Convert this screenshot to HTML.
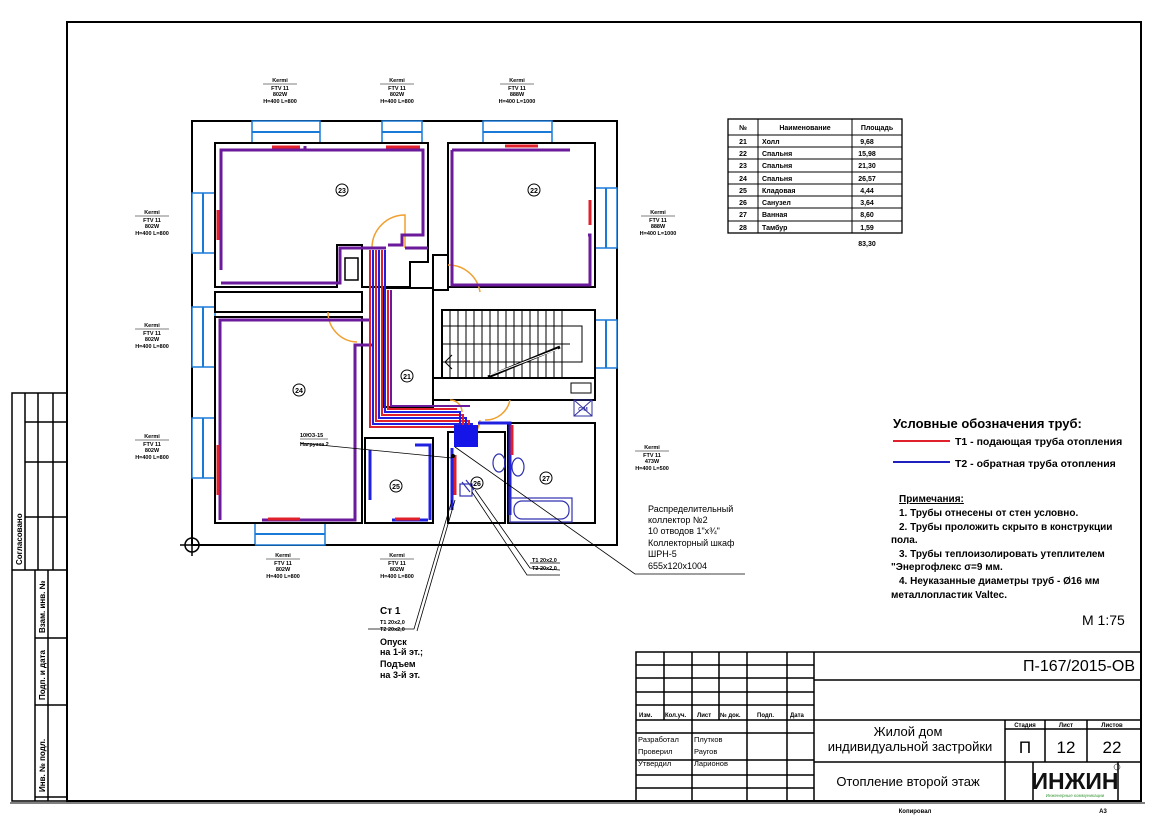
<!DOCTYPE html>
<html><head><meta charset="utf-8"><style>
html,body{margin:0;padding:0;background:#fff;}
svg{display:block;font-family:"Liberation Sans",Arial,sans-serif;}
.s{font-size:5.5px;font-weight:bold;text-anchor:middle;}
.w{fill:none;stroke:#000;stroke-width:2;}
.win{fill:#fff;stroke:#1a7ad8;stroke-width:1.5;}
.pp{fill:none;stroke:#6a1a9a;stroke-width:3;}
.rd{fill:none;stroke:#e0202a;stroke-width:3;}
.bl{fill:none;stroke:#2020e0;stroke-width:3;}
.dr{fill:none;stroke:#f0a030;stroke-width:1.5;}
</style></head><body>
<svg width="1166" height="824" viewBox="0 0 1166 824" xmlns="http://www.w3.org/2000/svg">
<rect x="67" y="22" width="1074" height="779" fill="none" stroke="#000" stroke-width="2"/>
<line x1="10" y1="803" x2="1145" y2="803" stroke="#000" stroke-width="1"/>
<g fill="none" stroke="#000" stroke-width="1.5">
<rect x="12" y="393" width="55" height="408"/>
<line x1="25" y1="393" x2="25" y2="570"/><line x1="38" y1="393" x2="38" y2="570"/><line x1="53" y1="393" x2="53" y2="570"/>
<line x1="25" y1="422" x2="67" y2="422"/><line x1="25" y1="462" x2="67" y2="462"/><line x1="25" y1="517" x2="67" y2="517"/>
<line x1="12" y1="570" x2="67" y2="570"/>
<line x1="35" y1="570" x2="35" y2="801"/><line x1="48" y1="570" x2="48" y2="801"/>
<line x1="35" y1="638" x2="67" y2="638"/><line x1="35" y1="705" x2="67" y2="705"/><line x1="35" y1="797" x2="67" y2="797"/>
</g>
<g font-size="8" font-weight="bold">
<text transform="translate(22,565) rotate(-90)">Согласовано</text>
<text transform="translate(45,633) rotate(-90)">Взам. инв. №</text>
<text transform="translate(45,700) rotate(-90)">Подп. и дата</text>
<text transform="translate(45,792) rotate(-90)">Инв. № подл.</text>
</g>

<rect x="192" y="121" width="425" height="424" fill="#fff" stroke="#000" stroke-width="2"/>
<g>
<rect class="win" x="252" y="121" width="68" height="22"/><line x1="252" y1="132" x2="320" y2="132" stroke="#1a7ad8" stroke-width="2"/>
<rect class="win" x="382" y="121" width="40" height="22"/><line x1="382" y1="132" x2="422" y2="132" stroke="#1a7ad8" stroke-width="2"/>
<rect class="win" x="483" y="121" width="69" height="22"/><line x1="483" y1="132" x2="552" y2="132" stroke="#1a7ad8" stroke-width="2"/>
<rect class="win" x="192" y="193" width="23" height="60"/><line x1="203" y1="193" x2="203" y2="253" stroke="#1a7ad8" stroke-width="2"/>
<rect class="win" x="192" y="307" width="23" height="60"/><line x1="203" y1="307" x2="203" y2="367" stroke="#1a7ad8" stroke-width="2"/>
<rect class="win" x="192" y="418" width="23" height="60"/><line x1="203" y1="418" x2="203" y2="478" stroke="#1a7ad8" stroke-width="2"/>
<rect class="win" x="595" y="188" width="22" height="60"/><line x1="606" y1="188" x2="606" y2="248" stroke="#1a7ad8" stroke-width="2"/>
<rect class="win" x="595" y="320" width="22" height="48"/><line x1="606" y1="320" x2="606" y2="368" stroke="#1a7ad8" stroke-width="2"/>
<rect class="win" x="255" y="523" width="70" height="22"/><line x1="255" y1="534" x2="325" y2="534" stroke="#1a7ad8" stroke-width="2"/>
</g>
<g class="w">
<path d="M215,143 H428 V262 H410 V287 H362 V245 H337 V287 H215 Z"/>
<path d="M448,143 H595 V287 H448 Z"/>
<path d="M215,292 H362 V312 H215 Z"/>
<path d="M215,317 H362 V523 H215 Z"/>
<path d="M383,288 H433 V407 H383 Z"/>
<rect x="442" y="310" width="153" height="68"/>
<rect x="433" y="378" width="162" height="22"/>
<rect x="365" y="438" width="68" height="85"/>
<rect x="448" y="432" width="57" height="91"/>
<rect x="508" y="423" width="87" height="100"/>
<rect x="433" y="255" width="15" height="35"/>
<rect x="345" y="258" width="13" height="22" stroke-width="1.5"/>
</g>
<g stroke="#000" stroke-width="1" fill="none">
<line x1="442" y1="344" x2="570" y2="344"/>
<rect x="442" y="326" width="140" height="36"/>
<line x1="450" y1="310" x2="450" y2="378"/><line x1="458" y1="310" x2="458" y2="378"/><line x1="466" y1="310" x2="466" y2="378"/>
<line x1="474" y1="310" x2="474" y2="378"/><line x1="482" y1="310" x2="482" y2="378"/><line x1="490" y1="310" x2="490" y2="378"/>
<line x1="498" y1="310" x2="498" y2="378"/><line x1="506" y1="310" x2="506" y2="378"/><line x1="514" y1="310" x2="514" y2="378"/>
<line x1="522" y1="310" x2="522" y2="378"/><line x1="530" y1="310" x2="530" y2="378"/><line x1="538" y1="310" x2="538" y2="378"/>
<line x1="546" y1="310" x2="546" y2="378"/><line x1="554" y1="310" x2="554" y2="378"/><line x1="562" y1="310" x2="562" y2="378"/>
<line x1="488" y1="377" x2="560" y2="347" stroke-width="3"/><line x1="490" y1="375" x2="558" y2="349" stroke="#fff" stroke-width="1"/>
<path d="M452,355 L445,362 L452,369"/>
<rect x="571" y="383" width="20" height="10"/>
<rect x="574" y="400" width="18" height="16" stroke="#3030a0"/>
<line x1="574" y1="400" x2="592" y2="416" stroke="#3030a0"/><line x1="592" y1="400" x2="574" y2="416" stroke="#3030a0"/>
</g>
<text x="583" y="411" font-size="5" fill="#3030a0" text-anchor="middle" font-weight="bold">С-М</text>
<g class="dr">
<path d="M405,248 V215 A33,33 0 0 0 372,248"/>
<path d="M448,265 A32,32 0 0 1 480,292"/>
<path d="M328,312 A30,30 0 0 0 357,342"/>
<path d="M510,400 A25,25 0 0 1 485,420"/>
<path d="M450,400 A12,12 0 0 1 462,412"/>
<path d="M455,445 A28,28 0 0 0 480,420"/>
</g>
<g>
<path class="pp" d="M221,270 V150 H305 V146 M305,150 H423 V235 H402 V245 H388"/>
<path class="pp" d="M221,283 H340 V248 H386"/>
<path class="rd" d="M272,147 H300 M386,147 H420 M218,210 V240"/>
<path class="pp" d="M452,150 V285 H590 V235 H588 M452,150 H570"/>
<path class="rd" d="M505,146 H538 M590,200 V225"/>
<path class="pp" d="M220,520 V320 H370"/>
<path class="pp" d="M262,520 H355 V345 H372"/>
<path class="rd" d="M218,495 V445 M268,519 H300"/>
<path class="bl" d="M370,500 V450 M430,520 V445 H415 M392,520 H428"/>
<path class="rd" d="M395,519 H420"/>
<path class="bl" d="M452,510 V448"/><path class="rd" d="M455,495 V455"/>
<path class="bl" d="M478,423 H510 V515"/><path class="rd" d="M512,425 V455"/>
</g>
<g fill="none" stroke-width="2">
<path stroke="#e0202a" d="M370,250 V427 H475 V440"/>
<path stroke="#2020e0" d="M373,250 V424 H472 V440"/>
<path stroke="#e0202a" d="M376,250 V421 H469 V440"/>
<path stroke="#2020e0" d="M379,250 V418 H466 V440"/>
<path stroke="#e0202a" d="M382,250 V415 H463 V440"/>
<path stroke="#2020e0" d="M385,250 V412 H460 V440"/>
<path stroke="#e0202a" d="M388,290 V409 H457"/>
<path stroke="#6a1a9a" d="M391,290 V406 H470"/>
</g>
<rect x="454" y="425" width="24" height="22" fill="#1515e8"/>
<path d="M405,248 H428" stroke="#6a1a9a" stroke-width="3"/>
<g fill="none" stroke="#3030b0" stroke-width="1.2">
<ellipse cx="499" cy="463" rx="6" ry="9"/><ellipse cx="518" cy="467" rx="6" ry="9"/>
<rect x="510" y="498" width="62" height="24"/><rect x="514" y="501" width="55" height="18" rx="8"/>
<path d="M462,482 L470,492 M466,480 L474,490"/><rect x="460" y="484" width="12" height="12"/>
</g>
<g font-size="7" font-weight="bold" text-anchor="middle">
<g fill="none" stroke="#000" stroke-width="1">
<circle cx="342" cy="190" r="6"/><circle cx="534" cy="190" r="6"/><circle cx="407" cy="376" r="6"/>
<circle cx="299" cy="390" r="6"/><circle cx="396" cy="486" r="6"/><circle cx="477" cy="483" r="6"/><circle cx="546" cy="478" r="6"/>
</g>
<text x="342" y="193">23</text><text x="534" y="193">22</text><text x="407" y="379">21</text>
<text x="299" y="393">24</text><text x="396" y="489">25</text><text x="477" y="486">26</text><text x="546" y="481">27</text>
</g>
<circle cx="192" cy="545" r="7" fill="none" stroke="#000" stroke-width="1.5"/>
<line x1="180" y1="545" x2="255" y2="545" stroke="#000" stroke-width="1.5"/><line x1="192" y1="530" x2="192" y2="556" stroke="#000" stroke-width="1.5"/>
<g stroke="#000" stroke-width="0.8" fill="none">
<line x1="300" y1="443" x2="452" y2="458"/>
<polyline points="455,447 635,574 745,574"/>
<polyline points="452,500 414,629 368,629"/><polyline points="455,500 417,631"/>
<polyline points="475,490 530,568 560,570"/><polyline points="472,492 527,575 560,575"/>
<line x1="530" y1="563" x2="560" y2="563"/>
</g>
<circle cx="453" cy="456" r="2" fill="#000"/>
<g class="s">
<g transform="translate(280,82)"><text y="0">Kermi</text><line x1="-17" y1="2" x2="17" y2="2" stroke="#000" stroke-width="0.6"/><text y="8">FTV 11</text><text y="14">802W</text><text y="21">H=400 L=800</text></g>
<g transform="translate(397,82)"><text y="0">Kermi</text><line x1="-17" y1="2" x2="17" y2="2" stroke="#000" stroke-width="0.6"/><text y="8">FTV 11</text><text y="14">802W</text><text y="21">H=400 L=800</text></g>
<g transform="translate(517,82)"><text y="0">Kermi</text><line x1="-17" y1="2" x2="17" y2="2" stroke="#000" stroke-width="0.6"/><text y="8">FTV 11</text><text y="14">888W</text><text y="21">H=400 L=1000</text></g>
<g transform="translate(152,214)"><text y="0">Kermi</text><line x1="-17" y1="2" x2="17" y2="2" stroke="#000" stroke-width="0.6"/><text y="8">FTV 11</text><text y="14">802W</text><text y="21">H=400 L=800</text></g>
<g transform="translate(152,327)"><text y="0">Kermi</text><line x1="-17" y1="2" x2="17" y2="2" stroke="#000" stroke-width="0.6"/><text y="8">FTV 11</text><text y="14">802W</text><text y="21">H=400 L=800</text></g>
<g transform="translate(152,438)"><text y="0">Kermi</text><line x1="-17" y1="2" x2="17" y2="2" stroke="#000" stroke-width="0.6"/><text y="8">FTV 11</text><text y="14">802W</text><text y="21">H=400 L=800</text></g>
<g transform="translate(658,214)"><text y="0">Kermi</text><line x1="-17" y1="2" x2="17" y2="2" stroke="#000" stroke-width="0.6"/><text y="8">FTV 11</text><text y="14">888W</text><text y="21">H=400 L=1000</text></g>
<g transform="translate(652,449)"><text y="0">Kermi</text><line x1="-17" y1="2" x2="17" y2="2" stroke="#000" stroke-width="0.6"/><text y="8">FTV 11</text><text y="14">473W</text><text y="21">H=400 L=500</text></g>
<g transform="translate(283,557)"><text y="0">Kermi</text><line x1="-17" y1="2" x2="17" y2="2" stroke="#000" stroke-width="0.6"/><text y="8">FTV 11</text><text y="14">802W</text><text y="21">H=400 L=800</text></g>
<g transform="translate(397,557)"><text y="0">Kermi</text><line x1="-17" y1="2" x2="17" y2="2" stroke="#000" stroke-width="0.6"/><text y="8">FTV 11</text><text y="14">802W</text><text y="21">H=400 L=800</text></g>
</g>
<g font-size="5.5" font-weight="bold">
<text x="300" y="437">10ЮЗ-15</text><line x1="300" y1="439" x2="328" y2="439" stroke="#000" stroke-width="0.6"/><text x="300" y="446">Нагрузка 2</text>
<text x="532" y="562">Т1 20х2,0</text><text x="532" y="570">Т2 20х2,0</text>
<text x="380" y="624">Т1 20х2,0</text><text x="380" y="631">Т2 20х2,0</text>
</g>
<g font-size="9" font-weight="bold">
<text x="380" y="614" font-size="10">Ст 1</text>
<text x="380" y="645">Опуск</text><text x="380" y="655">на 1-й эт.;</text><text x="380" y="667">Подъем</text><text x="380" y="678">на 3-й эт.</text>
</g>
<g font-size="9">
<text x="648" y="512">Распределительный</text><text x="648" y="523">коллектор №2</text><text x="648" y="534">10 отводов 1"х¾"</text>
<text x="648" y="546">Коллекторный шкаф</text><text x="648" y="557">ШРН-5</text><text x="648" y="569">655х120х1004</text>
</g>
<g fill="none" stroke="#000" stroke-width="1">
<rect x="728" y="119" width="174" height="114" stroke-width="1.3"/>
<line x1="758" y1="119" x2="758" y2="233"/><line x1="852" y1="119" x2="852" y2="233"/>
<line x1="728" y1="135" x2="902" y2="135"/><line x1="728" y1="147" x2="902" y2="147"/><line x1="728" y1="159" x2="902" y2="159"/>
<line x1="728" y1="172" x2="902" y2="172"/><line x1="728" y1="184" x2="902" y2="184"/><line x1="728" y1="196" x2="902" y2="196"/>
<line x1="728" y1="208" x2="902" y2="208"/><line x1="728" y1="221" x2="902" y2="221"/>
</g>
<g font-size="7" font-weight="bold">
<text x="743" y="130" text-anchor="middle">№</text><text x="805" y="130" text-anchor="middle">Наименование</text><text x="877" y="130" text-anchor="middle">Площадь</text>
<g text-anchor="middle"><text x="743" y="144">21</text><text x="743" y="156">22</text><text x="743" y="168">23</text><text x="743" y="181">24</text><text x="743" y="193">25</text><text x="743" y="205">26</text><text x="743" y="217">27</text><text x="743" y="230">28</text></g>
<text x="762" y="144">Холл</text><text x="762" y="156">Спальня</text><text x="762" y="168">Спальня</text><text x="762" y="181">Спальня</text><text x="762" y="193">Кладовая</text><text x="762" y="205">Санузел</text><text x="762" y="217">Ванная</text><text x="762" y="230">Тамбур</text>
<g text-anchor="middle"><text x="867" y="144">9,68</text><text x="867" y="156">15,98</text><text x="867" y="168">21,30</text><text x="867" y="181">26,57</text><text x="867" y="193">4,44</text><text x="867" y="205">3,64</text><text x="867" y="217">8,60</text><text x="867" y="230">1,59</text><text x="867" y="246">83,30</text></g>
</g>
<text x="893" y="428" font-size="13" font-weight="bold">Условные обозначения  труб:</text>
<line x1="893" y1="441" x2="950" y2="441" stroke="#e0202a" stroke-width="2"/>
<text x="955" y="445" font-size="10.5" font-weight="bold">Т1 - подающая труба отопления</text>
<line x1="893" y1="462" x2="950" y2="462" stroke="#2020c0" stroke-width="2"/>
<text x="955" y="467" font-size="10.5" font-weight="bold">Т2 - обратная труба отопления</text>
<g font-size="10" font-weight="bold">
<text x="899" y="502" text-decoration="underline">Примечания:</text>
<text x="899" y="516">1. Трубы отнесены от стен условно.</text>
<text x="899" y="530">2. Трубы проложить скрыто в конструкции</text>
<text x="891" y="543">пола.</text>
<text x="899" y="557">3. Трубы теплоизолировать утеплителем</text>
<text x="891" y="570">"Энергофлекс σ=9 мм.</text>
<text x="899" y="584">4. Неуказанные диаметры труб - Ø16 мм</text>
<text x="891" y="598">металлопластик Valtec.</text>
</g>
<text x="1082" y="625" font-size="14">М 1:75</text>
<g fill="none" stroke="#000" stroke-width="1.5">
<rect x="636" y="652" width="505" height="149"/>
<line x1="664" y1="652" x2="664" y2="720"/><line x1="692" y1="652" x2="692" y2="801"/><line x1="719" y1="652" x2="719" y2="720"/>
<line x1="747" y1="652" x2="747" y2="801"/><line x1="787" y1="652" x2="787" y2="801"/><line x1="814" y1="652" x2="814" y2="801"/>
<line x1="636" y1="665" x2="814" y2="665"/><line x1="636" y1="678" x2="814" y2="678"/><line x1="636" y1="692" x2="814" y2="692"/>
<line x1="636" y1="705" x2="814" y2="705"/><line x1="636" y1="720" x2="1141" y2="720"/>
<line x1="636" y1="733" x2="814" y2="733"/><line x1="636" y1="760" x2="814" y2="760"/><line x1="636" y1="775" x2="814" y2="775"/><line x1="636" y1="788" x2="814" y2="788"/>
<line x1="814" y1="680" x2="1141" y2="680"/>
<line x1="1005" y1="720" x2="1005" y2="801"/><line x1="1045" y1="720" x2="1045" y2="762"/><line x1="1087" y1="720" x2="1087" y2="762"/>
<line x1="1005" y1="729" x2="1141" y2="729"/><line x1="814" y1="762" x2="1141" y2="762"/>
<line x1="1033" y1="762" x2="1033" y2="801"/><line x1="1118" y1="762" x2="1118" y2="801"/>
</g>
<g font-size="6" font-weight="bold">
<text x="639" y="717">Изм.</text><text x="665" y="717">Кол.уч.</text><text x="697" y="717">Лист</text><text x="720" y="717">№ док.</text><text x="757" y="717">Подп.</text><text x="790" y="717">Дата</text>
<text x="1025" y="727" text-anchor="middle">Стадия</text><text x="1066" y="727" text-anchor="middle">Лист</text><text x="1112" y="727" text-anchor="middle">Листов</text>
</g>
<g font-size="7.5">
<text x="638" y="742">Разработал</text><text x="694" y="742">Плутков</text>
<text x="638" y="754">Проверил</text><text x="694" y="754">Раугов</text>
<text x="638" y="766">Утвердил</text><text x="694" y="766">Ларионов</text>
</g>
<text x="1135" y="671" font-size="16" text-anchor="end">П-167/2015-ОВ</text>
<text x="908" y="736" font-size="13" text-anchor="middle">Жилой дом</text>
<text x="910" y="751" font-size="13" text-anchor="middle">индивидуальной застройки</text>
<text x="908" y="786" font-size="13" text-anchor="middle">Отопление второй этаж</text>
<g font-size="17" text-anchor="middle"><text x="1025" y="753">П</text><text x="1066" y="753">12</text><text x="1112" y="753">22</text></g>
<text x="1075" y="789" font-size="23" font-weight="bold" text-anchor="middle" fill="#111">ИНЖИН</text>
<text x="1075" y="797" font-size="4.5" text-anchor="middle" fill="#3a9a3a">Инженерные коммуникации</text>
<circle cx="1117" cy="767" r="3" fill="none" stroke="#000" stroke-width="0.5"/>
<text x="915" y="813" font-size="6" font-weight="bold" text-anchor="middle">Копировал</text>
<text x="1103" y="813" font-size="6" font-weight="bold" text-anchor="middle">А3</text>
</svg>
</body></html>
